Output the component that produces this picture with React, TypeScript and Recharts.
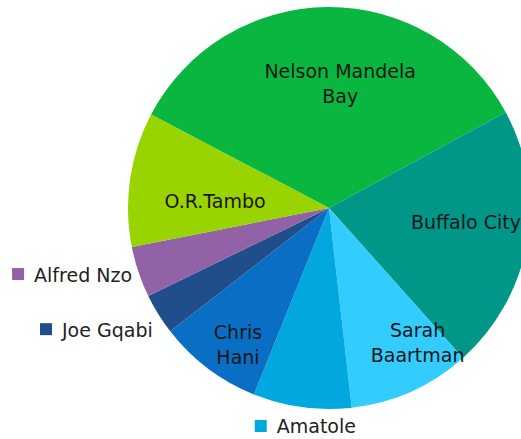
import React from 'react';
import { PieChart, Pie, Cell } from 'recharts';

const districts = ['Nelson Mandela Bay', 'Buffalo City', 'Sarah Baartman', 'Amatole', 'Chris Hani', 'Joe Gqabi', 'Alfred Nzo', 'O.R.Tambo'];
const shares = [34.4, 21.3, 9.8, 7.9, 8.4, 3.3, 4.1, 10.8];
const labelLines = [['Nelson Mandela', 'Bay'], ['Buffalo City'], ['Sarah', 'Baartman'], ['Amatole'], ['Chris', 'Hani'], ['Joe Gqabi'], ['Alfred Nzo'], ['O.R.Tambo']];

const colors = ['#08b640', '#009688', '#33ccff', '#00a8df', '#0a6ec4', '#1f4e8a', '#9262a6', '#99d300'];

// label placement relative to the pie: radius factor, angle shift (deg), outside (with swatch)
const labelPlace = [
  { f: 0.624, s: -5.5, out: false },
  { f: 0.685, s: 3.9, out: false },
  { f: 0.8, s: 9.3, out: false },
  { f: 1.148, s: -11.05, out: true },
  { f: 0.818, s: 3.45, out: false },
  { f: 1.56, s: -9.05, out: true },
  { f: 1.611, s: -6.7, out: true },
  { f: 0.568, s: 4.75, out: false },
];

const data = districts.map((name, i) => ({ name, value: shares[i] }));

const RAD = Math.PI / 180;
const FONT = 19;

const renderLabel = (props: any) => {
  const { cx, cy, midAngle, outerRadius, index } = props;
  const p = labelPlace[index];
  const a = (midAngle + p.s) * RAD;
  const r = outerRadius * p.f;
  const x = cx + r * Math.cos(a);
  const y = cy - r * Math.sin(a);
  const lines = labelLines[index];
  if (p.out) {
    return (
      <g key={`lbl-${index}`}>
        <rect x={x} y={y - 6.5} width={12} height={12} fill={colors[index]} />
        <text x={x + 22} y={y} dominantBaseline="central" textAnchor="start" fontSize={FONT} fill="#222" fontFamily="DejaVu Sans">
          {lines[0]}
        </text>
      </g>
    );
  }
  const lh = 25;
  const y0 = y - ((lines.length - 1) * lh) / 2;
  return (
    <text key={`lbl-${index}`} x={x} y={y0} textAnchor="middle" fontSize={FONT} fill="#161616" fontFamily="DejaVu Sans">
      {lines.map((t, k) => (
        <tspan key={k} x={x} y={y0 + k * lh} dominantBaseline="central">{t}</tspan>
      ))}
    </text>
  );
};

export default function App() {
  return (
    <div style={{ position: 'absolute', left: 0, top: 0, width: 521, height: 439, background: '#fff' }}>
      <PieChart width={521} height={439} margin={{ top: 0, right: 0, bottom: 0, left: 0 }}>
        <Pie
          data={data}
          dataKey="value"
          nameKey="name"
          cx={329}
          cy={208}
          outerRadius={201}
          startAngle={152.3}
          endAngle={152.3 - 360}
          stroke="none"
          label={renderLabel}
          labelLine={false}
          isAnimationActive={false}
        >
          {data.map((d, i) => (
            <Cell key={d.name} fill={colors[i]} />
          ))}
        </Pie>
      </PieChart>
    </div>
  );
}
